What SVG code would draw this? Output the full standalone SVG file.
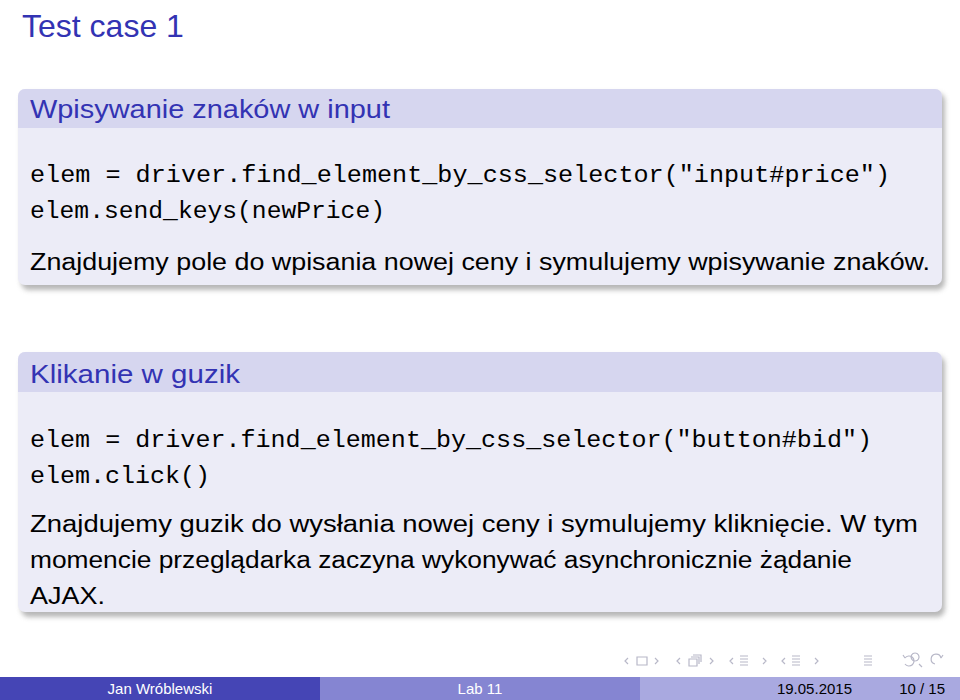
<svg xmlns="http://www.w3.org/2000/svg" width="960" height="700" viewBox="0 0 960 700">
<style>
.t{font-family:"Liberation Sans","DejaVu Sans",sans-serif;}
.m{font-family:"Liberation Mono","DejaVu Sans Mono",monospace;font-size:23px;fill:#000}
.p{font-family:"Liberation Sans","DejaVu Sans",sans-serif;font-size:23px;fill:#000}
.bt{font-family:"Liberation Sans",sans-serif;font-size:26px;fill:#3333b3}
.hd{fill:#d6d6ef}.bd{fill:#ececf7}
.nav{fill:none;stroke:#b8b8c8;stroke-width:1.2}
</style>
<defs>
<filter id="sh" x="-5%" y="-10%" width="110%" height="125%"><feGaussianBlur stdDeviation="2.5"/></filter>
</defs>
<rect width="960" height="700" fill="#fff"/>
<text class="t" x="22" y="37" font-size="32" fill="#3333b3">Test case 1</text>
<g id="block1">
<rect x="21" y="93" width="924" height="197" rx="8" fill="#888" opacity="0.6" filter="url(#sh)"/>
<rect x="18" y="89" width="924" height="196" rx="7" class="bd"/>
<path d="M18,128 V96 a7,7 0 0 1 7,-7 H935 a7,7 0 0 1 7,7 V128 Z" class="hd"/>
<text class="bt" x="30" y="118" textLength="360" lengthAdjust="spacingAndGlyphs">Wpisywanie znaków w input</text>
<text class="m" x="30" y="182" textLength="860" lengthAdjust="spacingAndGlyphs">elem = driver.find_element_by_css_selector("input#price")</text>
<text class="m" x="30" y="218" textLength="355" lengthAdjust="spacingAndGlyphs">elem.send_keys(newPrice)</text>
<text class="p" x="30" y="270" textLength="900" lengthAdjust="spacingAndGlyphs">Znajdujemy pole do wpisania nowej ceny i symulujemy wpisywanie znaków.</text>
</g>
<g id="block2">
<rect x="21" y="356" width="924" height="261" rx="8" fill="#888" opacity="0.6" filter="url(#sh)"/>
<rect x="18" y="352" width="924" height="260" rx="7" class="bd"/>
<path d="M18,392 V359 a7,7 0 0 1 7,-7 H935 a7,7 0 0 1 7,7 V392 Z" class="hd"/>
<text class="bt" x="30" y="383" textLength="210" lengthAdjust="spacingAndGlyphs">Klikanie w guzik</text>
<text class="m" x="30" y="447" textLength="842" lengthAdjust="spacingAndGlyphs">elem = driver.find_element_by_css_selector("button#bid")</text>
<text class="m" x="30" y="483" textLength="180" lengthAdjust="spacingAndGlyphs">elem.click()</text>
<text class="p" x="30" y="532" textLength="888" lengthAdjust="spacingAndGlyphs">Znajdujemy guzik do wysłania nowej ceny i symulujemy kliknięcie. W tym</text>
<text class="p" x="30" y="568" textLength="822" lengthAdjust="spacingAndGlyphs">momencie przeglądarka zaczyna wykonywać asynchronicznie żądanie</text>
<text class="p" x="30" y="604" textLength="75" lengthAdjust="spacingAndGlyphs">AJAX.</text>
</g>
<g id="nav">
<path class="nav" d="M628,658 l-3,3 l3,3 M637,657 h10 v8 h-10 z M655,658 l3,3 l-3,3"/>
<path class="nav" d="M680,658 l-3,3 l3,3 M689,659 h8 v7 h-8 z M691,657 h8 v7 M693,655 h8 v7 M710,658 l3,3 l-3,3"/>
<path class="nav" d="M733,658 l-3,3 l3,3 M740,656 h8 M740,659 h8 M740,662 h8 M740,665 h8 M763,658 l3,3 l-3,3"/>
<path class="nav" d="M785,658 l-3,3 l3,3 M792,656 h8 M792,659 h8 M792,662 h8 M792,665 h8 M815,658 l3,3 l-3,3"/>
<path class="nav" d="M864,656 h8 M864,659 h8 M864,662 h8 M864,665 h8"/>
<path class="nav" d="M905,658 a5,5 0 1 1 0,6 M905,658 l-2,-3 M915,661 a4,4 0 1 1 0.1,0 M919,664 l3,3 M935,664 a5,5 0 1 1 6,-6 M941,658 l2,-3"/>
</g>
<g id="footer">
<rect x="0" y="677" width="320" height="23" fill="#4545b5"/>
<rect x="320" y="677" width="320" height="23" fill="#8585d2"/>
<rect x="640" y="677" width="320" height="23" fill="#a9a9e0"/>
<text class="t" x="160" y="694" font-size="15" fill="#fff" text-anchor="middle">Jan Wróblewski</text>
<text class="t" x="480" y="694" font-size="15" fill="#fff" text-anchor="middle">Lab 11</text>
<text class="t" x="852" y="694" font-size="15" fill="#000" text-anchor="end">19.05.2015</text>
<text class="t" x="945" y="694" font-size="15" fill="#000" text-anchor="end">10 / 15</text>
</g>
</svg>
